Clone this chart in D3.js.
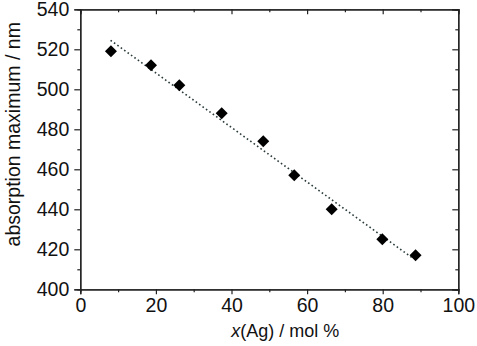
<!DOCTYPE html>
<html><head><meta charset="utf-8">
<script src="https://cdn.jsdelivr.net/npm/d3@7"></script>
<style>
html,body{margin:0;padding:0;background:#fff;}
svg{display:block;font-family:"Liberation Sans",Arial,sans-serif;}
</style></head>
<body>
<svg id="c" width="477" height="346"></svg>
<script>
const xAg = [8.1, 18.7, 26.2, 37.4, 48.4, 56.6, 66.5, 79.9, 88.7];
const absMax = [519, 512, 502, 488, 474, 457, 440, 425, 417];
const fitX = [8, 88];
const fitY = [524.5, 415.5];
const xTicks = [0, 20, 40, 60, 80, 100];
const yTicks = [400, 420, 440, 460, 480, 500, 520, 540];
const xMinor = [10, 30, 50, 70, 90];
const yMinor = [410, 430, 450, 470, 490, 510, 530];

const svg = d3.select("#c");
const L = 80.3, R = 458.3, T = 9.3, B = 289.3;
const x = d3.scaleLinear().domain([0, 100]).range([L, R]);
const y = d3.scaleLinear().domain([400, 540]).range([B, T]);
const axisCol = "#222";

svg.append("g").attr("transform", `translate(0,${B})`)
  .call(d3.axisBottom(x).tickValues(xTicks).tickSize(5).tickPadding(4).tickFormat(d3.format("d")));
svg.append("g").attr("transform", `translate(0,${B})`)
  .call(d3.axisBottom(x).tickValues(xMinor).tickSize(3).tickFormat(""));
svg.append("g").attr("transform", `translate(${L},0)`)
  .call(d3.axisLeft(y).tickValues(yTicks).tickSize(6).tickPadding(5).tickFormat(d3.format("d")));
svg.append("g").attr("transform", `translate(${L},0)`)
  .call(d3.axisLeft(y).tickValues(yMinor).tickSize(3).tickFormat(""));
svg.append("g").attr("transform", `translate(0,${T})`)
  .call(d3.axisBottom(x).tickValues(xTicks).tickSize(5).tickFormat(""));
svg.append("g").attr("transform", `translate(0,${T})`)
  .call(d3.axisBottom(x).tickValues(xMinor).tickSize(3).tickFormat(""));
svg.append("g").attr("transform", `translate(${R},0)`)
  .call(d3.axisLeft(y).tickValues(yTicks).tickSize(6).tickFormat(""));
svg.append("g").attr("transform", `translate(${R},0)`)
  .call(d3.axisLeft(y).tickValues(yMinor).tickSize(3).tickFormat(""));

svg.selectAll(".domain").attr("stroke", axisCol).attr("stroke-width", 1.3);
svg.selectAll(".tick line").attr("stroke", axisCol).attr("stroke-width", 1.2);
svg.selectAll(".tick text").attr("fill", "#111").style("font-size", "19.5px").style("font-family", "Liberation Sans, Arial, sans-serif");

svg.append("path")
  .datum(fitX.map((d, i) => [d, fitY[i]]))
  .attr("d", d3.line().x(d => x(d[0])).y(d => y(d[1])))
  .attr("fill", "none").attr("stroke", "#2a3a3a").attr("stroke-width", 1.6)
  .attr("stroke-dasharray", "1.6,2.6");

svg.selectAll(".pt").data(xAg.map((d, i) => [d, absMax[i]])).enter()
  .append("path")
  .attr("transform", d => `translate(${x(d[0])},${y(d[1])})`)
  .attr("d", "M0,-6L6,0L0,6L-6,0Z")
  .attr("fill", "#000");

const xt = svg.append("text")
  .attr("x", (L + R) / 2 + 16).attr("y", 337)
  .attr("text-anchor", "middle").style("font-size", "18px").attr("fill", "#111");
xt.append("tspan").style("font-style", "italic").text("x");
xt.append("tspan").text("(Ag) / mol %");

svg.append("text")
  .attr("transform", `translate(20,${(T + B) / 2 - 15}) rotate(-90)`)
  .attr("text-anchor", "middle").style("font-size", "19.5px").attr("fill", "#111")
  .text("absorption maximum / nm");
</script>
</body></html>
